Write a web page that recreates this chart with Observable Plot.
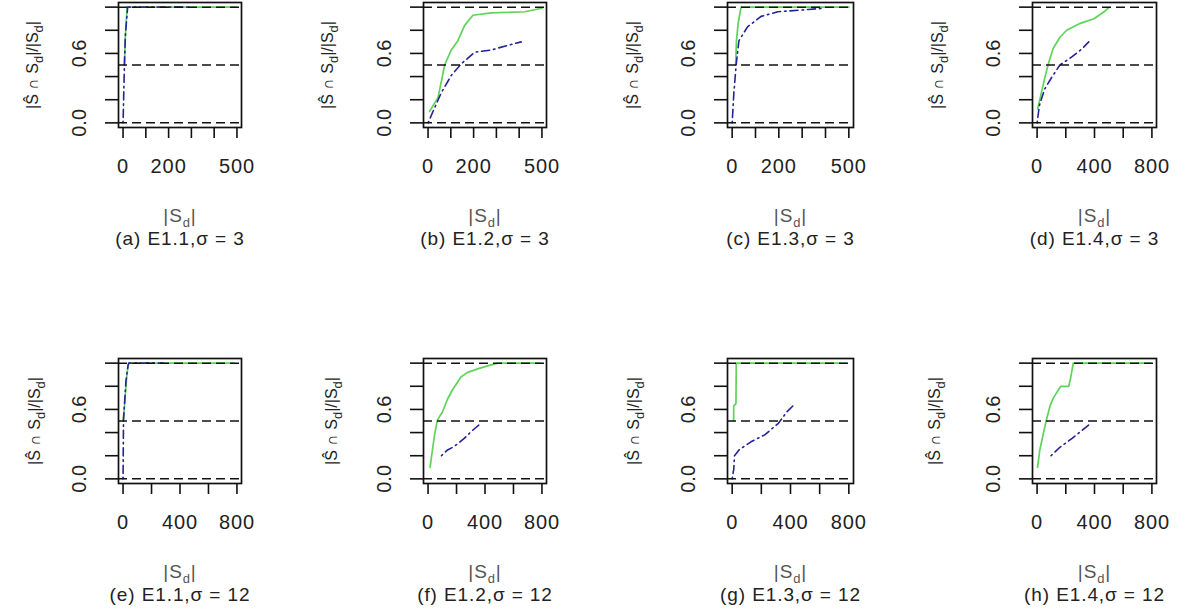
<!DOCTYPE html>
<html>
<head>
<meta charset="utf-8">
<script src="https://cdn.jsdelivr.net/npm/d3@7"></script>
<script src="https://cdn.jsdelivr.net/npm/@observablehq/plot@0.6"></script>
<style>
  html, body { margin: 0; padding: 0; background: #fff; }
  #chart { position: relative; width: 1186px; height: 613px; overflow: hidden; background: #fff; }
  #chart svg { position: absolute; overflow: visible; }
</style>
</head>
<body>
<div id="chart"></div>
<script>
// ---- data ----
const captions = ["(a) E1.1,σ = 3", "(b) E1.2,σ = 3", "(c) E1.3,σ = 3", "(d) E1.4,σ = 3",
                  "(e) E1.1,σ = 12", "(f) E1.2,σ = 12", "(g) E1.3,σ = 12", "(h) E1.4,σ = 12"];
const xMax = [500, 500, 500, 800, 800, 800, 800, 800];
const xTicks500 = [0, 100, 200, 300, 400, 500];
const xLabels500 = [0, 200, 500];
const xTicks800 = [0, 200, 400, 600, 800];
const xLabels800 = [0, 400, 800];
const yTicks = [0, 0.2, 0.4, 0.6, 0.8, 1.0];
const yLabels = [0, 0.6];
const refLines = [0, 0.5, 1];
const xTitle = "|S_d|";
const yTitle = "|Ŝ ∩ S_d|/|S_d|";

// (a)
const aGreenX = [6, 10, 14, 19, 500];
const aGreenY = [0.5, 0.74, 0.88, 1.0, 1.0];
const aBlueX = [0, 6, 10, 20, 300];
const aBlueY = [0, 0.5, 0.75, 1.0, 1.0];
// (b)
const bGreenX = [7, 44, 73, 102, 131, 160, 197, 278, 424, 500];
const bGreenY = [0.10, 0.22, 0.50, 0.63, 0.71, 0.84, 0.93, 0.95, 0.96, 0.99];
const bBlueX = [0, 22, 58, 102, 146, 204, 278, 351, 409];
const bBlueY = [0, 0.10, 0.26, 0.41, 0.51, 0.61, 0.63, 0.67, 0.70];
// (c)
const cGreenX = [15, 18, 25, 38, 500];
const cGreenY = [0.5, 0.7, 0.85, 1.0, 1.0];
const cBlueX = [0, 7, 17, 29, 66, 124, 196, 328, 390];
const cBlueY = [0, 0.25, 0.5, 0.71, 0.83, 0.92, 0.96, 0.98, 0.99];
// (d)
const dGreenX = [4, 28, 52, 76, 111, 159, 206, 301, 396, 467, 503];
const dGreenY = [0.12, 0.25, 0.38, 0.5, 0.64, 0.74, 0.80, 0.86, 0.90, 0.96, 1.0];
const dBlueX = [0, 16, 52, 100, 159, 242, 313, 360];
const dBlueY = [0, 0.15, 0.29, 0.39, 0.50, 0.57, 0.64, 0.70];
// (e)
const eGreenX = [0, 12, 24, 35, 40, 780];
const eGreenY = [0.5, 0.66, 0.86, 0.98, 1.0, 1.0];
const eBlueX = [0, 3, 20, 35, 40, 280];
const eBlueY = [0, 0.5, 0.84, 0.98, 1.0, 1.0];
// (f)
const fGreenX = [14, 31, 47, 66, 102, 137, 172, 231, 278, 349, 442, 490, 790];
const fGreenY = [0.10, 0.25, 0.39, 0.51, 0.58, 0.69, 0.77, 0.88, 0.92, 0.95, 0.985, 1.0, 1.0];
const fBlueX = [94, 137, 184, 254, 313, 372];
const fBlueY = [0.20, 0.25, 0.28, 0.35, 0.42, 0.48];
// (g)
const gGreenX = [10, 11, 26, 28, 780];
const gGreenY = [0.5, 0.63, 0.65, 1.0, 1.0];
const gBlueX = [0, 11, 16, 47, 129, 223, 317, 376, 424];
const gBlueY = [0, 0.085, 0.2, 0.25, 0.32, 0.38, 0.48, 0.58, 0.64];
// (h)
const hGreenX = [3, 19, 38, 62, 90, 114, 149, 166, 220, 232, 252, 790];
const hGreenY = [0.10, 0.25, 0.36, 0.495, 0.63, 0.70, 0.77, 0.80, 0.80, 0.86, 1.0, 1.0];
const hBlueX = [97, 161, 244, 315, 374];
const hBlueY = [0.20, 0.275, 0.35, 0.42, 0.48];

const greenX = [aGreenX, bGreenX, cGreenX, dGreenX, eGreenX, fGreenX, gGreenX, hGreenX];
const greenY = [aGreenY, bGreenY, cGreenY, dGreenY, eGreenY, fGreenY, gGreenY, hGreenY];
const blueX = [aBlueX, bBlueX, cBlueX, dBlueX, eBlueX, fBlueX, gBlueX, hBlueX];
const blueY = [aBlueY, bBlueY, cBlueY, dBlueY, eBlueY, fBlueY, gBlueY, hBlueY];

// ---- layout ----
const frameLeft = [118, 423, 727, 1032];
const frameWidth = [123, 123, 126, 124];
const frameTop = [2, 358];
const frameHeight = 125;
const yTitleOffset = [[86, 96, 95, 95], [84, 92, 94, 98]];
const ML = 120, MR = 20, MT = 2, MB = 125;
const GREEN = "#5fd35a", BLUE = "#23239a";
const FONT = "'Liberation Sans', Arial, Helvetica, sans-serif";

const chart = document.getElementById("chart");

function toPts(xs, ys) { return xs.map((x, i) => ({x, y: ys[i]})); }

for (let i = 0; i < 8; i++) {
  const row = Math.floor(i / 4), col = i % 4;
  const xm = xMax[i];
  const pad = 0.04 * xm;
  const xt = xm === 500 ? xTicks500 : xTicks800;
  const xl = xm === 500 ? xLabels500 : xLabels800;
  const w = frameWidth[col];
  const fig = Plot.plot({
    width: ML + w + MR,
    height: MT + frameHeight + MB,
    marginLeft: ML, marginRight: MR, marginTop: MT, marginBottom: MB,
    x: {domain: [-pad, xm + pad]},
    y: {domain: [-0.04, 1.04]},
    style: {fontFamily: FONT, background: "transparent", color: "#111", overflow: "visible"},
    marks: [
      Plot.line(toPts(greenX[i], greenY[i]), {x: "x", y: "y", stroke: GREEN, strokeWidth: 1.7}),
      Plot.line(toPts(blueX[i], blueY[i]), {x: "x", y: "y", stroke: BLUE, strokeWidth: 1.6, strokeDasharray: "1.5,4,8,4"}),
      Plot.ruleY(refLines, {stroke: "#111", strokeWidth: 1.5, strokeDasharray: "9,5"}),
      Plot.frame({stroke: "#111", strokeWidth: 1.7}),
      Plot.axisX({ticks: xt, tickSize: 11, tickFormat: () => "", label: null, strokeWidth: 1.6, stroke: "#111"}),
      Plot.axisY({ticks: yTicks, tickSize: 13, tickFormat: () => "", label: null, strokeWidth: 1.6, stroke: "#111"}),
      Plot.text(xl, {x: d => d, text: d => String(d), frameAnchor: "bottom", lineAnchor: "middle", textAnchor: "middle", dy: 39, fontSize: 20, fill: "#222"}),
      Plot.text(yLabels, {y: d => d, text: d => d.toFixed(1), frameAnchor: "left", lineAnchor: "middle", textAnchor: "middle", dx: -39, rotate: -90, fontSize: 20, fill: "#222"}),
      Plot.text([xTitle], {text: d => d, frameAnchor: "bottom", lineAnchor: "middle", textAnchor: "middle", dy: 88, fontSize: 19, fill: "#555"}),
      Plot.text([captions[i]], {text: d => d, frameAnchor: "bottom", lineAnchor: "middle", textAnchor: "middle", dy: 111, fontSize: 19, fill: "#222"}),
      Plot.text([yTitle], {text: d => d, frameAnchor: "left", lineAnchor: "middle", textAnchor: "middle", dx: -yTitleOffset[row][col], rotate: -90, fontSize: 16, fill: "#222"})
    ]
  });
  fig.style.left = (frameLeft[col] - ML) + "px";
  fig.style.top = (frameTop[row] - MT) + "px";
  chart.appendChild(fig);
}

// widen horizontal texts slightly (reference glyphs are wide)
d3.select(chart).selectAll("text").each(function() {
  const tr = this.getAttribute("transform") || "";
  if (!tr.includes("rotate")) this.style.letterSpacing = "0.9px";
});

// render "_d" as a subscript d
d3.select(chart).selectAll("text").each(function() {
  const t = this.textContent;
  if (!t.includes("_d") || this.querySelector("tspan")) return;
  const fs = parseFloat(this.getAttribute("font-size")) || 18;
  const parts = t.split("_d");
  const sel = d3.select(this);
  sel.text(null);
  parts.forEach((p, k) => {
    const ts = sel.append("tspan").text(p);
    if (k > 0) ts.attr("dy", -fs * 0.28);
    if (k < parts.length - 1) {
      sel.append("tspan").text("d").attr("font-size", fs * 0.72).attr("dy", fs * 0.28);
    }
  });
});
</script>
</body>
</html>
